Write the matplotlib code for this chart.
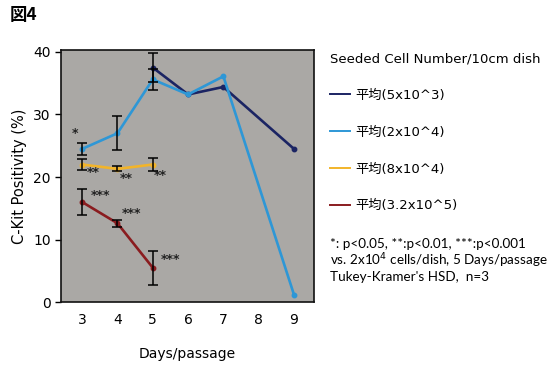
import matplotlib.pyplot as plt
from matplotlib.lines import Line2D
import numpy as np

# C-Kit positivity by days per passage, one series per seeding density
days_5e3 = [5, 6, 7, 9]
mean_5e3 = [37.5, 33.2, 34.4, 24.5]
err_5e3 = [2.3, 0, 0, 0]

days_2e4 = [3, 4, 5, 6, 7, 9]
mean_2e4 = [24.5, 27.0, 35.6, 33.2, 36.1, 1.2]
err_2e4 = [1.0, 2.7, 1.7, 0, 0, 0]

days_8e4 = [3, 4, 5]
mean_8e4 = [22.0, 21.3, 22.0]
err_8e4 = [0.9, 0.4, 1.0]

days_32e5 = [3, 4, 5]
mean_32e5 = [16.0, 12.6, 5.5]
err_32e5 = [2.1, 0.6, 2.7]

labels = ["平均(5x10^3)", "平均(2x10^4)", "平均(8x10^4)", "平均(3.2x10^5)"]
colors = ["#1b2463", "#2e97d6", "#f2b42a", "#8a1c1f"]

# significance marks: (x, y, text)
stars = [(2.8, 27.0, "*"),
         (3.3, 20.8, "**"), (4.25, 19.8, "**"), (5.22, 20.3, "**"),
         (3.52, 17.1, "***"), (4.4, 14.2, "***"), (5.5, 6.8, "***")]

plt.rcParams['font.family'] = ['DejaVu Sans', 'Noto Sans CJK JP']

fig = plt.figure(figsize=(5.52, 3.68), dpi=100)
ax = fig.add_axes([0.1105, 0.179, 0.4585, 0.685])
ax.set_facecolor("#aaa8a5")

series = [(days_5e3, mean_5e3, err_5e3), (days_2e4, mean_2e4, err_2e4),
          (days_8e4, mean_8e4, err_8e4), (days_32e5, mean_32e5, err_32e5)]
for (x, y, e), c in zip(series, colors):
    x = np.array(x)
    y = np.array(y)
    e = np.array(e)
    ax.plot(x, y, color=c, lw=1.9, marker="o", ms=3.2, zorder=3)
    m = e > 0
    ax.errorbar(x[m], y[m], yerr=e[m], fmt="none", ecolor="black",
                elinewidth=1.1, capsize=3.6, capthick=1.1, zorder=4)

for x, y, t in stars:
    ax.text(x, y, t, ha="center", va="center", fontsize=9, fontweight="bold",
            color="#222222")

ax.set_xlim(2.4, 9.57)
ax.set_ylim(0, 40.3)
ax.set_xticks(range(3, 10))
ax.set_yticks([0, 10, 20, 30, 40])
ax.tick_params(axis="x", length=0, pad=8, labelsize=10)
ax.tick_params(axis="y", length=4, width=1, labelsize=10)
for s in ax.spines.values():
    s.set_linewidth(1.2)
    s.set_color("#111111")

ax.set_xlabel("Days/passage", fontsize=10, labelpad=14)
ax.set_ylabel("C-Kit Positivity (%)", fontsize=10.5, labelpad=4)

fig.text(0.018, 0.959, "図4", fontsize=12.5, fontweight="bold",
         family="Noto Sans CJK JP", va="center")

handles = [Line2D([], [], color=c, lw=1.4) for c in colors]
fig.legend(handles, labels, loc="upper left", bbox_to_anchor=(0.598, 0.858),
           frameon=False, title="Seeded Cell Number/10cm dish",
           title_fontsize=9.5, fontsize=9.5, alignment="left",
           handlelength=1.5, handletextpad=0.4, labelspacing=1.8,
           borderaxespad=0, borderpad=0)

fig.text(0.598, 0.352, "*: p<0.05, **:p<0.01, ***:p<0.001\n"
         "vs. 2x10$^4$ cells/dish, 5 Days/passage\n"
         "Tukey-Kramer's HSD,  n=3",
         fontsize=9.7, family="Lato", va="top", linespacing=1.1)

fig.savefig("out.png", dpi=100)
